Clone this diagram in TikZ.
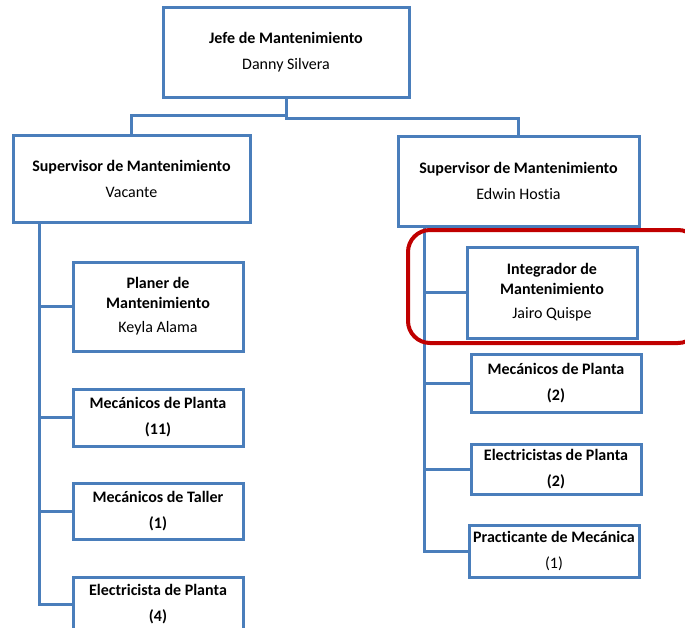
\documentclass[tikz,border=0pt]{standalone}
\usepackage{fontspec}
\setmainfont{Carlito}[Ligatures=NoCommon]
\definecolor{lineblue}{RGB}{74,126,187}
\definecolor{hlred}{RGB}{192,0,0}
\tikzset{
  box/.style={draw=lineblue, line width=3pt, fill=white, rectangle, inner sep=0pt, align=center,
    font=\fontsize{16}{20}\selectfont},
  conn/.style={draw=lineblue, line width=3pt},
}
\newcommand{\bx}[5]{% name, x1, y1, x2, y2
  \node[box, minimum width={#4-#2}, minimum height={#5-#3}] (#1) at ({(#2+#4)/2},{(#3+#5)/2})}
\begin{document}
\begin{tikzpicture}[x=1pt,y=-1pt]
\useasboundingbox (0,0) rectangle (685,627);
\clip (0,0) rectangle (685,627);
\fill[white] (0,0) rectangle (685,627);
% boxes
\bx{jefe}{163}{7}{409}{97} {\textbf{Jefe de Mantenimiento}\\[6pt] Danny Silvera};
\bx{supL}{13}{135}{250}{222} {\textbf{Supervisor de Mantenimiento}\\[6pt] Vacante};
\bx{supR}{398}{136}{639}{226} {\textbf{Supervisor de Mantenimiento}\\[6pt] Edwin Hostia};
\bx{planer}{73}{262}{243}{351} {\textbf{Planer de}\\ \textbf{Mantenimiento}\\[4pt] Keyla Alama};
\bx{mecL}{73}{389}{243}{446} {\textbf{Mecánicos de Planta}\\[6pt] \textbf{(11)}};
\bx{taller}{73}{483}{243}{539} {\textbf{Mecánicos de Taller}\\[6pt] \textbf{(1)}};
\bx{elecL}{73}{577}{243}{631} {\textbf{Electricista de Planta}\\[6pt] \textbf{(4)}};
\bx{integ}{467}{247}{637}{338} {\textbf{Integrador de}\\ \textbf{Mantenimiento}\\[4pt] Jairo Quispe};
\bx{mecR}{471}{354}{641}{412} {\textbf{Mecánicos de Planta}\\[6pt] \textbf{(2)}};
\bx{elecR}{471}{444}{641}{494} {\textbf{Electricistas de Planta}\\[6pt] \textbf{(2)}};
\bx{pract}{469}{525}{639}{577} {\textbf{Practicante de Mecánica}\\[6pt] (1)};
% connectors
\draw[conn] (jefe.south) -- ++(0,17) -| (supL.north);
\draw[conn] (jefe.south) -- ++(0,20) -| (supR.north);
\coordinate (tL) at (39,222);
\coordinate (tR) at (424,226);
\draw[conn] (tL) |- (planer.west);
\draw[conn] (tL) |- (mecL.west);
\draw[conn] (tL) |- (taller.west);
\draw[conn] (tL) |- (elecL.west);
\draw[conn] (tR) |- (integ.west);
\draw[conn] (tR) |- (mecR.west);
\draw[conn] (tR) |- (elecR.west);
\draw[conn] (tR) |- (pract.west);
% highlight
\draw[hlred, line width=4pt, rounded corners=22pt] (408,230) rectangle (700,343);
\end{tikzpicture}
\end{document}
